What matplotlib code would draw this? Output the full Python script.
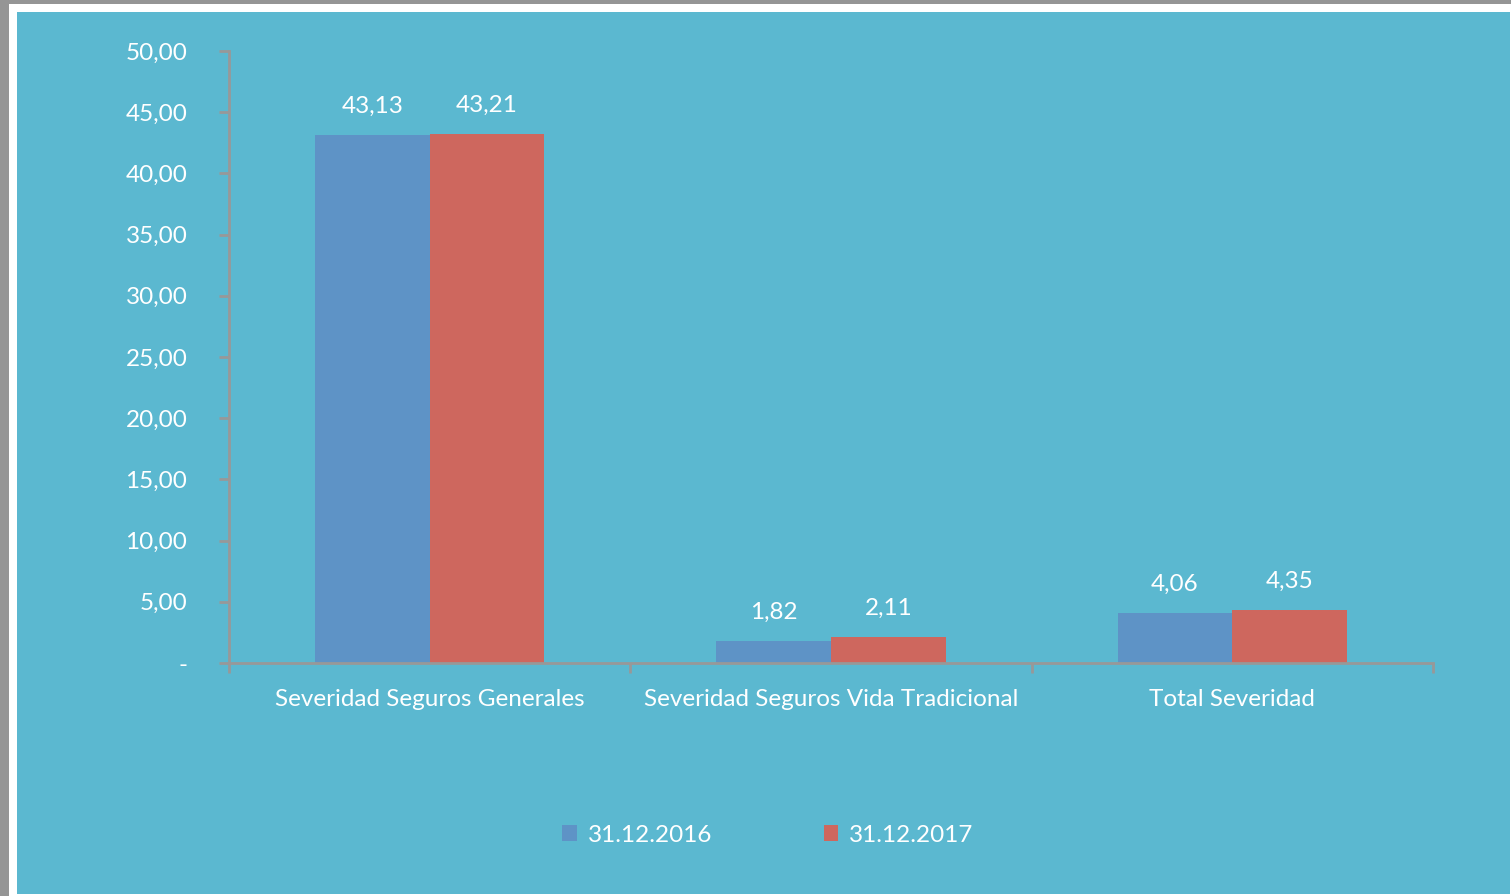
import numpy as np
import matplotlib
matplotlib.use("Agg")
import matplotlib.pyplot as plt
from matplotlib.patches import Rectangle

plt.rcParams['font.family'] = ['Lato', 'DejaVu Sans']

categories = ['Severidad Seguros Generales', 'Severidad Seguros Vida Tradicional', 'Total Severidad']
series_names = ['31.12.2016', '31.12.2017']
vals_2016 = [43.13, 1.82, 4.06]
vals_2017 = [43.21, 2.11, 4.35]
yticks = [0, 5, 10, 15, 20, 25, 30, 35, 40, 45, 50]

bg = '#5BB8D0'
c_blue = '#5E93C6'
c_red = '#CE675E'
axis_gray = '#989898'
fs = 17.5

W, H = 1511, 896
fig = plt.figure(figsize=(W / 100, H / 100), dpi=100, facecolor='#959595')

# white frame and cyan panel
fig.add_artist(Rectangle((9 / W, 0), 1 - 9 / W, 1 - 4 / H, transform=fig.transFigure,
                         facecolor='white', edgecolor='none', zorder=0))
fig.add_artist(Rectangle((17 / W, 2 / H), (1510 - 17) / W, 1 - 14 / H, transform=fig.transFigure,
                         facecolor=bg, edgecolor='none', zorder=0))

ax = fig.add_axes([229 / W, 1 - 663 / H, (1433 - 229) / W, (663 - 51) / H])
ax.set_facecolor('none')

x = np.arange(len(categories))
bw = 0.286
b1 = ax.bar(x - bw / 2, vals_2016, bw, color=c_blue, label=series_names[0], zorder=2)
b2 = ax.bar(x + bw / 2, vals_2017, bw, color=c_red, label=series_names[1], zorder=2)

def fmt(v):
    return f'{v:.2f}'.replace('.', ',')

for bars, vals in [(b1, vals_2016), (b2, vals_2017)]:
    for rect, v in zip(bars, vals):
        ax.annotate(fmt(v), (rect.get_x() + rect.get_width() / 2, v),
                    xytext=(0, 13), textcoords='offset points',
                    ha='center', va='bottom', color='white', fontsize=fs)

ax.set_xlim(-0.5, 2.5)
ax.set_ylim(0, 50)
ax.set_yticks(yticks)
ax.set_yticklabels(['-' if t == 0 else fmt(t) for t in yticks])
ax.set_xticks([-0.5, 0.5, 1.5, 2.5])
ax.set_xticklabels([])
ax.set_xticks(x, minor=True)
ax.set_xticklabels(categories, minor=True)

for s in ['top', 'right']:
    ax.spines[s].set_visible(False)
for s in ['left', 'bottom']:
    ax.spines[s].set_color(axis_gray)
    ax.spines[s].set_linewidth(2)

ax.tick_params(axis='y', colors=axis_gray, labelcolor='white', labelsize=fs,
               length=7, width=2, pad=23)
ax.tick_params(axis='x', which='major', colors=axis_gray, length=7, width=2)
ax.tick_params(axis='x', which='minor', length=0, labelcolor='white', labelsize=fs, pad=19)

fig.legend(handles=[b1, b2], labels=series_names, loc='center',
           bbox_to_anchor=(768 / W, 1 - 835 / H), ncol=2, frameon=False,
           labelcolor='white', fontsize=fs, handlelength=0.6, handleheight=0.6,
           handletextpad=0.45, columnspacing=4.6)

fig.savefig('out.png', dpi=100, facecolor=fig.get_facecolor())
